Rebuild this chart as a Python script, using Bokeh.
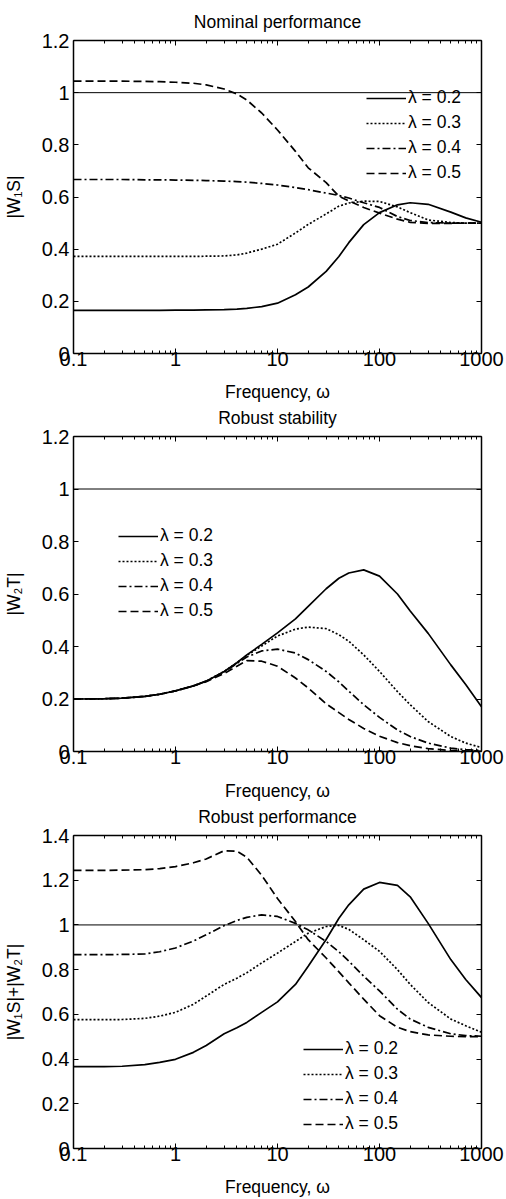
from bokeh.plotting import figure
from bokeh.models import FixedTicker, LogAxis, LinearAxis, Legend, LegendItem, Range1d
from bokeh.layouts import column
from bokeh.embed import file_html
from bokeh.resources import INLINE

# ---------------- data ----------------
freq = [0.1, 0.2, 0.3, 0.5, 0.7, 1, 1.5, 2, 3, 4, 5, 7, 10, 15, 20, 30, 40, 50,
        70, 100, 150, 200, 300, 500, 700, 1000]

# Nominal performance |W1 S|
np_02 = [0.165, 0.165, 0.165, 0.165, 0.165, 0.166, 0.166, 0.167, 0.168, 0.170, 0.173, 0.180, 0.193,
         0.225, 0.255, 0.315, 0.372, 0.425, 0.494, 0.540, 0.570, 0.578, 0.572, 0.542, 0.520, 0.503]
np_03 = [0.372, 0.372, 0.372, 0.372, 0.372, 0.372, 0.372, 0.373, 0.374, 0.378, 0.385, 0.400, 0.419,
         0.462, 0.495, 0.535, 0.565, 0.577, 0.584, 0.583, 0.562, 0.540, 0.512, 0.502, 0.500, 0.500]
np_04 = [0.667, 0.667, 0.667, 0.666, 0.666, 0.665, 0.664, 0.663, 0.661, 0.659, 0.657, 0.652, 0.646,
         0.636, 0.628, 0.615, 0.606, 0.596, 0.578, 0.560, 0.525, 0.510, 0.502, 0.500, 0.500, 0.500]
np_05 = [1.044, 1.044, 1.044, 1.043, 1.042, 1.040, 1.036, 1.030, 1.014, 0.995, 0.972, 0.922, 0.857,
         0.775, 0.712, 0.655, 0.603, 0.585, 0.560, 0.538, 0.515, 0.503, 0.499, 0.499, 0.500, 0.500]

# Robust stability |W2 T|
rs_02 = [0.200, 0.201, 0.203, 0.210, 0.218, 0.231, 0.250, 0.268, 0.305, 0.338, 0.368, 0.408, 0.452,
         0.505, 0.553, 0.620, 0.660, 0.680, 0.692, 0.668, 0.600, 0.535, 0.450, 0.330, 0.255, 0.170]
rs_03 = [0.200, 0.201, 0.203, 0.210, 0.218, 0.231, 0.250, 0.268, 0.305, 0.338, 0.366, 0.402, 0.440,
         0.466, 0.474, 0.468, 0.445, 0.420, 0.368, 0.305, 0.228, 0.178, 0.114, 0.057, 0.032, 0.015]
rs_04 = [0.200, 0.201, 0.203, 0.210, 0.218, 0.231, 0.250, 0.268, 0.303, 0.335, 0.360, 0.383, 0.390,
         0.375, 0.350, 0.305, 0.265, 0.230, 0.178, 0.130, 0.082, 0.057, 0.032, 0.013, 0.007, 0.004]
rs_05 = [0.200, 0.201, 0.203, 0.210, 0.218, 0.231, 0.250, 0.266, 0.297, 0.325, 0.346, 0.344, 0.325,
         0.280, 0.242, 0.182, 0.148, 0.122, 0.088, 0.058, 0.034, 0.022, 0.011, 0.004, 0.002, 0.001]

# Robust performance |W1 S| + |W2 T|
rp_02 = [0.366, 0.366, 0.368, 0.375, 0.385, 0.399, 0.430, 0.461, 0.513, 0.540, 0.564, 0.609, 0.656,
         0.734, 0.815, 0.935, 1.030, 1.090, 1.160, 1.190, 1.177, 1.126, 1.007, 0.845, 0.756, 0.675]
rp_03 = [0.576, 0.576, 0.577, 0.582, 0.592, 0.609, 0.645, 0.682, 0.734, 0.762, 0.786, 0.830, 0.874,
         0.926, 0.963, 0.993, 0.998, 0.980, 0.934, 0.882, 0.800, 0.734, 0.653, 0.579, 0.549, 0.520]
rp_04 = [0.867, 0.867, 0.868, 0.870, 0.880, 0.897, 0.928, 0.956, 0.997, 1.020, 1.034, 1.045, 1.038,
         1.007, 0.978, 0.926, 0.880, 0.838, 0.771, 0.705, 0.623, 0.579, 0.542, 0.513, 0.505, 0.502]
rp_05 = [1.244, 1.244, 1.245, 1.247, 1.252, 1.261, 1.278, 1.295, 1.332, 1.330, 1.303, 1.222, 1.118,
         1.015, 0.934, 0.852, 0.790, 0.741, 0.668, 0.594, 0.542, 0.523, 0.508, 0.502, 0.500, 0.500]

lambda_labels = ["λ = 0.2", "λ = 0.3", "λ = 0.4", "λ = 0.5"]

ref_x = [0.1, 1000]
ref_level = [1.0, 1.0]

x_ticks = [0.1, 1, 10, 100, 1000]
x_tick_labels = ["0.1", "1", "10", "100", "1000"]
x_minor = [k * d for d in (0.1, 1, 10, 100) for k in range(2, 10)]

y_ticks_12 = [0, 0.2, 0.4, 0.6, 0.8, 1.0, 1.2]
y_labels_12 = ["0", "0.2", "0.4", "0.6", "0.8", "1", "1.2"]
y_ticks_14 = [0, 0.2, 0.4, 0.6, 0.8, 1.0, 1.2, 1.4]
y_labels_14 = ["0", "0.2", "0.4", "0.6", "0.8", "1", "1.2", "1.4"]

# ---------------- styling ----------------
FONT = "Liberation Sans"
W = 506
LEFT = 73
RIGHT = 25
dashes = ["solid", "2 2", "8 3 2 3", "8 4"]


def style_axis(ax):
    ax.axis_line_color = "black"
    ax.axis_line_width = 1.5
    ax.major_tick_line_color = "black"
    ax.minor_tick_line_color = "black"
    ax.major_tick_in = 5
    ax.major_tick_out = 0
    ax.minor_tick_in = 3
    ax.minor_tick_out = 0
    ax.major_label_text_font = FONT
    ax.major_label_text_font_size = "20px"
    ax.major_label_text_color = "black"
    ax.axis_label_text_font = FONT
    ax.axis_label_text_font_size = "17.5px"
    ax.axis_label_text_font_style = "normal"
    ax.axis_label_text_color = "black"


def panel(title, ylabel, yticks, ylabels, ymax, series, legend_xy, top, frame_h, bottom,
          xlabel_standoff):
    p = figure(width=W, height=top + frame_h + bottom, x_axis_type="log",
               x_range=Range1d(0.1, 1000), y_range=Range1d(0, ymax),
               output_backend="svg", toolbar_location=None,
               min_border_left=LEFT, min_border_right=RIGHT,
               min_border_top=top, min_border_bottom=bottom,
               background_fill_color="white", border_fill_color="white")
    p.xgrid.visible = False
    p.ygrid.visible = False
    p.outline_line_color = None

    xt = FixedTicker(ticks=x_ticks, minor_ticks=x_minor)
    yt = FixedTicker(ticks=yticks)

    xa = p.xaxis[0]
    style_axis(xa)
    xa.ticker = xt
    xa.major_label_overrides = dict(zip(x_ticks, x_tick_labels))
    xa.axis_label = "Frequency, ω"
    xa.major_label_standoff = -2
    xa.axis_label_standoff = xlabel_standoff

    ya = p.yaxis[0]
    style_axis(ya)
    ya.ticker = yt
    ya.major_label_overrides = dict(zip(yticks, ylabels))
    ya.axis_label = ylabel
    ya.major_label_standoff = 4
    ya.axis_label_standoff = 15

    # top axis (inner ticks) carries the panel title as its label
    top_ax = LogAxis(ticker=xt, axis_label=title)
    right_ax = LinearAxis(ticker=yt)
    for ax in (top_ax, right_ax):
        style_axis(ax)
        ax.major_label_text_font_size = "1px"
        ax.major_label_text_alpha = 0
        ax.major_label_standoff = 0
    top_ax.axis_label_standoff = 9
    p.add_layout(top_ax, "above")
    p.add_layout(right_ax, "right")

    p.line(ref_x, ref_level, line_color="black", line_width=1)

    items = []
    for label, vals, dash in zip(lambda_labels, series, dashes):
        r = p.line(freq, vals, line_color="black", line_width=1.7, line_dash=dash)
        items.append(LegendItem(label=label, renderers=[r]))
    leg = Legend(items=items, location=legend_xy, padding=0, margin=0, spacing=4,
                 glyph_width=40, glyph_height=20, label_height=20, label_standoff=2,
                 label_text_font=FONT, label_text_font_size="17.5px", label_text_color="black",
                 background_fill_alpha=0, border_line_color=None)
    p.add_layout(leg)
    return p


p1 = panel("Nominal performance", "|W₁S|", y_ticks_12, y_labels_12, 1.2,
           [np_02, np_03, np_04, np_05], (293, 170), 40, 315, 49, 13)
p2 = panel("Robust stability", "|W₂T|", y_ticks_12, y_labels_12, 1.2,
           [rs_02, rs_03, rs_04, rs_05], (45, 130), 31, 318, 50, 14)
p3 = panel("Robust performance", "|W₁S|+|W₂T|", y_ticks_14, y_labels_14, 1.4,
           [rp_02, rp_03, rp_04, rp_05], (230, 14), 30, 316, 50, 13)

layout = column(p1, p2, p3, spacing=0)
open("out.html", "w").write(file_html(layout, INLINE))
